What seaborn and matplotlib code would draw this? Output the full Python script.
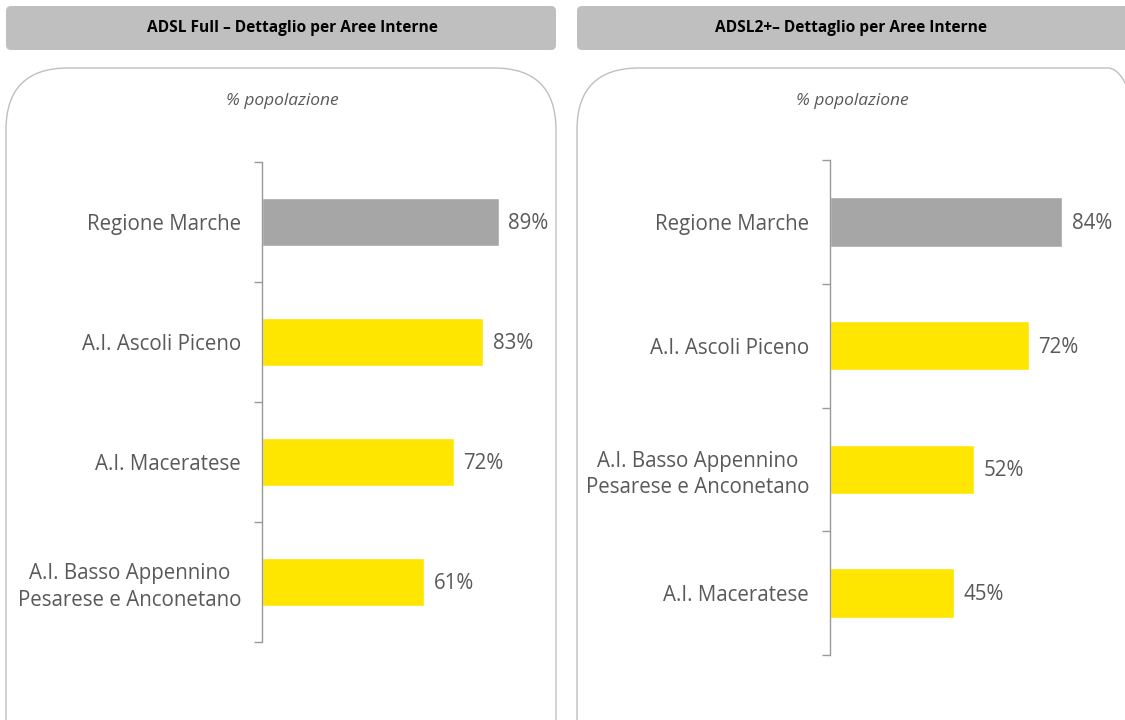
import matplotlib
matplotlib.use("Agg")
import matplotlib.pyplot as plt
import seaborn as sns
import pandas as pd
from matplotlib.patches import FancyBboxPatch
from matplotlib.ticker import FixedLocator

sns.set_theme(style="white")
plt.rcParams['font.family'] = ['Open Sans', 'DejaVu Sans']

# dati
titles = ["ADSL Full \u2013 Dettaglio per Aree Interne", "ADSL2+\u2013 Dettaglio per Aree Interne"]
subtitle = "% popolazione"
cats_full = ["Regione Marche", "A.I. Ascoli Piceno", "A.I. Maceratese",
             "A.I. Basso Appennino\nPesarese e Anconetano"]
vals_full = [89, 83, 72, 61]
cats_adsl2 = ["Regione Marche", "A.I. Ascoli Piceno",
              "A.I. Basso Appennino\nPesarese e Anconetano", "A.I. Maceratese"]
vals_adsl2 = [84, 72, 52, 45]

GREY_BAR = "#a6a6a6"
YELLOW = "#ffe600"
TXT = "#595959"

fig = plt.figure(figsize=(11.25, 7.2), dpi=100)

# riquadri e intestazioni (in pollici)
for x0, x1 in [(0.06, 5.56), (5.77, 11.70)]:
    head = FancyBboxPatch((x0 + 0.03, 6.73), x1 - x0 - 0.06, 0.38,
                          boxstyle="round,pad=0.03,rounding_size=0.05",
                          transform=fig.dpi_scale_trans, facecolor="#bfbfbf",
                          edgecolor="none", zorder=-2)
    fig.patches.append(head)
    box = FancyBboxPatch((x0, -0.8), x1 - x0, 7.32,
                         boxstyle="round,pad=0,rounding_size=0.62",
                         transform=fig.dpi_scale_trans, facecolor="none",
                         edgecolor="#bfbfbf", linewidth=1, zorder=-2)
    fig.patches.append(box)

fig.text(292 / 1125, 1 - 28 / 720, titles[0], ha="center", va="center",
         fontsize=11.2, fontweight="bold", color="black")
fig.text(851 / 1125, 1 - 28 / 720, titles[1], ha="center", va="center",
         fontsize=11.2, fontweight="bold", color="black")
fig.text(282 / 1125, 1 - 101 / 720, subtitle, ha="center", va="center",
         fontsize=12.5, style="italic", color=TXT)
fig.text(852 / 1125, 1 - 101 / 720, subtitle, ha="center", va="center",
         fontsize=12.5, style="italic", color=TXT)

panels = [
    (cats_full, vals_full, [262 / 1125, 1 - 642 / 720, 266 / 1125, 480 / 720]),
    (cats_adsl2, vals_adsl2, [830 / 1125, 1 - 655 / 720, 276 / 1125, 495 / 720]),
]

for cats, vals, pos in panels:
    ax = fig.add_axes(pos)
    ax.patch.set_alpha(0)
    df = pd.DataFrame({"cat": cats, "val": vals})
    colors = [GREY_BAR] + [YELLOW] * (len(cats) - 1)
    sns.barplot(data=df, x="val", y="cat", hue="cat", palette=colors,
                orient="h", width=0.4, legend=False, ax=ax, saturation=1)
    ax.set_xlim(0, 100)
    ax.set_ylim(len(cats) - 0.5, -0.5)
    ax.set_xlabel("")
    ax.set_ylabel("")
    ax.set_xticks([])
    for s in ["top", "right", "bottom"]:
        ax.spines[s].set_visible(False)
    ax.spines["left"].set_color("#999999")
    ax.spines["left"].set_linewidth(1)
    ax.yaxis.set_minor_locator(FixedLocator([i - 0.5 for i in range(len(cats) + 1)]))
    ax.tick_params(axis="y", which="major", length=0, pad=15,
                   labelsize=14.8, labelcolor=TXT)
    ax.tick_params(axis="y", which="minor", length=6, width=1,
                   color="#999999", direction="out", left=True)
    for lab in ax.get_yticklabels():
        lab.set_multialignment("center")
        lab.set_linespacing(1.35)
    # etichette valori
    for i, v in enumerate(vals):
        ax.annotate(f"{v}%", (v, i), xytext=(7, -1), textcoords="offset points",
                    ha="left", va="center", fontsize=14.8, color=TXT)

fig.savefig("out.png", dpi=100)
